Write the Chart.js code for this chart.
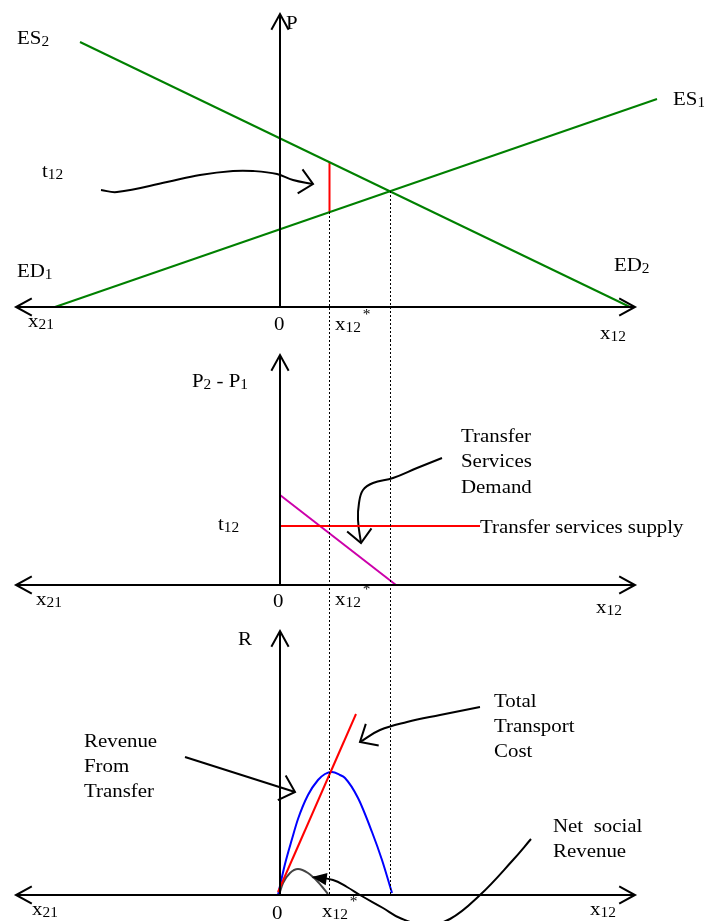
<!DOCTYPE html>
<html>
<head>
<meta charset="utf-8" />
<script src="https://cdn.jsdelivr.net/npm/chart.js@4.4.1/dist/chart.umd.min.js"></script>
<style>
  html,body{margin:0;padding:0;background:#fff;}
  #wrap{position:relative;width:704px;height:921px;}
  #c{display:block;}
</style>
</head>
<body>
<div id="wrap"><canvas id="c" width="704" height="921"></canvas></div>
<script>
/* ---------- Data (diagram units: 0 = vertical axis, x12 grows to the right) ---------- */
const X12_STAR = 4.95, X12_TRADE = 11.05;   // equilibrium with / without transfer cost
const X_LEFT = -26.4, X_RIGHT = 35.5;       // ends of the quantity axes

// top panel: P
const es2X = [-20, 35],     es2Y = [26.5, 0];      // ES2 / ED2
const es1X = [-22.5, 37.7], es1Y = [0, 20.8];      // ED1 / ES1
const gapY = [14.5, 9.5];                          // t12 gap at x12*
const crossY = 11.6;                               // ES1 = ED2 height
const topAxisH = 29.3, topFloor = -3.3;

// middle panel: P2 - P1
const demandX = [0, 11.6], demandY = [9.0, 0];
const supplyX = [0, 20],   supplyY = [5.9, 5.9];
const midAxisH = 23, midCeil = 24.5, midFloor = -3.5;

// bottom panel: R
const revX  = [-0.2, 0.5, 1.2, 1.8, 2.8, 3.8, 4.5, 5.2, 6.0, 6.5, 7.8, 9.2, 10.2, 11.2];
const revY  = [0, 3.1, 5.6, 7.6, 10.0, 11.5, 12.1, 12.3, 12.0, 11.7, 9.7, 6.3, 3.5, 0.2];
const costX = [-0.2, 7.6], costY = [0.3, 18.1];
const netX  = [-0.1, 0.3, 1.0, 1.8, 2.8, 3.8, 4.8];
const netY  = [0, 1.2, 2.2, 2.6, 2.2, 1.3, 0.1];
const botAxisH = 26.4, botCeil = 27.5;

// pointer curves
const t12PtrX = [-17.9, -16.3, -11.3, -8, -4.7, -2.7, -0.3, 1.3, 3.3];
const t12PtrY = [11.7, 11.5, 12.5, 13.2, 13.6, 13.6, 13.3, 12.7, 12.3];
const tsdPtrX = [16.2, 13.7, 11.3, 9.3, 8.3, 7.9, 7.8, 8.1];
const tsdPtrY = [12.7, 11.7, 10.7, 10.2, 9.5, 8.2, 6.5, 4.2];
const revPtrX = [-9.5, 1.5], revPtrY = [13.8, 10.3];
const ttcPtrX = [20, 16, 12.7, 10, 8];
const ttcPtrY = [18.8, 18.0, 17.3, 16.5, 15.3];
const nsrPtrX = [25.1, 23.3, 20, 17, 14.5, 12, 10.3, 8, 6.7, 5.3, 3.2];
const nsrPtrY = [5.6, 3.5, 0, -2.4, -3.0, -2.3, -1.3, 0, 0.8, 1.5, 1.8];

/* ---------- Labels ---------- */
const labels = [
  ['yTop', -26.3, 26.3, [['ES'], ['2', 'sub']]],
  ['yTop', 0.6, 27.8, [['P']]],
  ['yTop', -23.8, 13.0, [['t'], ['12', 'sub']]],
  ['yTop', -26.3, 3.0, [['ED'], ['1', 'sub']]],
  ['yTop', 39.3, 20.2, [['ES'], ['1', 'sub']]],
  ['yTop', 33.4, 3.6, [['ED'], ['2', 'sub']]],
  ['yTop', -25.2, -2.0, [['x'], ['21', 'sub']]],
  ['yTop', -0.6, -2.3, [['0']]],
  ['yTop', 5.5, -2.3, [['x'], ['12', 'sub'], ['*', 'sup']]],
  ['yTop', 32, -3.2, [['x'], ['12', 'sub']]],

  ['yMid', -8.8, 19.8, [['P'], ['2', 'sub'], [' - P'], ['1', 'sub']]],
  ['yMid', -6.2, 5.5, [['t'], ['12', 'sub']]],
  ['yMid', -24.4, -2.0, [['x'], ['21', 'sub']]],
  ['yMid', -0.7, -2.2, [['0']]],
  ['yMid', 5.5, -2.0, [['x'], ['12', 'sub'], ['*', 'sup']]],
  ['yMid', 31.6, -2.8, [['x'], ['12', 'sub']]],
  ['yMid', 18.1, 14.3, [['Transfer']]],
  ['yMid', 18.1, 11.8, [['Services']]],
  ['yMid', 18.1, 9.2, [['Demand']]],
  ['yMid', 20.0, 5.2, [['Transfer services supply']]],

  ['yBot', -4.2, 25.0, [['R']]],
  ['yBot', -19.6, 14.8, [['Revenue']]],
  ['yBot', -19.6, 12.3, [['From']]],
  ['yBot', -19.6, 9.8, [['Transfer']]],
  ['yBot', 21.4, 18.8, [['Total']]],
  ['yBot', 21.4, 16.3, [['Transport']]],
  ['yBot', 21.4, 13.8, [['Cost']]],
  ['yBot', 27.3, 6.3, [['Net  social']]],
  ['yBot', 27.3, 3.8, [['Revenue']]],
  ['yBot', -24.8, -2.0, [['x'], ['21', 'sub']]],
  ['yBot', -0.8, -2.4, [['0']]],
  ['yBot', 4.2, -2.2, [['x'], ['12', 'sub'], ['*', 'sup']]],
  ['yBot', 31.0, -2.0, [['x'], ['12', 'sub']]]
];

/* ---------- Helpers ---------- */
const GREEN = '#008000', RED = '#ff0000', BLUE = '#0000ff', MAGENTA = '#cc00aa';
const AXIS_HEAD = { len: 18, spread: 0.5 };
const PTR_HEAD = { len: 18, spread: 0.75 };

function pts(xs, ys){ return xs.map((x, i) => ({ x, y: ys[i] })); }
function line(xs, ys, axis, color, width, extra){
  return Object.assign({
    data: pts(xs, ys), yAxisID: axis, borderColor: color, borderWidth: width,
    showLine: true, pointRadius: 0, fill: false, tension: 0
  }, extra || {});
}
const dotted = { borderDash: [2, 2] };
const smooth = { cubicInterpolationMode: 'monotone' };

const datasets = [
  // axes
  line([X_LEFT, X_RIGHT], [0, 0], 'yTop', '#000', 2, { arrow: Object.assign({ start: true, end: true }, AXIS_HEAD) }),
  line([0, 0], [0, topAxisH], 'yTop', '#000', 2, { arrow: Object.assign({ end: true }, AXIS_HEAD) }),
  line([X_LEFT, X_RIGHT], [0, 0], 'yMid', '#000', 2, { arrow: Object.assign({ start: true, end: true }, AXIS_HEAD) }),
  line([0, 0], [0, midAxisH], 'yMid', '#000', 2, { arrow: Object.assign({ end: true }, AXIS_HEAD) }),
  line([X_LEFT, X_RIGHT], [0, 0], 'yBot', '#000', 2, { arrow: Object.assign({ start: true, end: true }, AXIS_HEAD) }),
  line([0, 0], [0, botAxisH], 'yBot', '#000', 2, { arrow: Object.assign({ end: true }, AXIS_HEAD) }),

  // guide lines
  line([X12_STAR, X12_STAR], [gapY[1], topFloor], 'yTop', '#000', 1, dotted),
  line([X12_TRADE, X12_TRADE], [crossY, topFloor], 'yTop', '#000', 1, dotted),
  line([X12_STAR, X12_STAR], [midCeil, midFloor], 'yMid', '#000', 1, dotted),
  line([X12_TRADE, X12_TRADE], [midCeil, midFloor], 'yMid', '#000', 1, dotted),
  line([X12_STAR, X12_STAR], [botCeil, 0], 'yBot', '#000', 1, dotted),
  line([X12_TRADE, X12_TRADE], [botCeil, 0], 'yBot', '#000', 1, dotted),

  // top panel
  line(es2X, es2Y, 'yTop', GREEN, 2),
  line(es1X, es1Y, 'yTop', GREEN, 2),
  line([X12_STAR, X12_STAR], gapY, 'yTop', RED, 2),

  // middle panel
  line(supplyX, supplyY, 'yMid', RED, 2),
  line(demandX, demandY, 'yMid', MAGENTA, 2),

  // bottom panel
  line(costX, costY, 'yBot', RED, 2),
  line(revX, revY, 'yBot', BLUE, 2, smooth),
  line(netX, netY, 'yBot', '#444', 2, smooth),

  // pointers
  line(t12PtrX, t12PtrY, 'yTop', '#000', 2, { tension: 0.4, arrow: Object.assign({ end: true }, PTR_HEAD) }),
  line(tsdPtrX, tsdPtrY, 'yMid', '#000', 2, { tension: 0.4, arrow: Object.assign({ end: true }, PTR_HEAD) }),
  line(revPtrX, revPtrY, 'yBot', '#000', 2, { arrow: { end: true, len: 19, spread: 0.75 } }),
  line(ttcPtrX, ttcPtrY, 'yBot', '#000', 2, { tension: 0.4, arrow: { end: true, len: 19, spread: 0.72 } }),
  line(nsrPtrX, nsrPtrY, 'yBot', '#000', 2, { tension: 0.4, arrow: { end: true, len: 16, spread: 0.4, filled: true } })
];

/* ---------- Plugins ---------- */
function head(ctx, from, to, a){
  const ang = Math.atan2(to.y - from.y, to.x - from.x);
  ctx.beginPath();
  ctx.moveTo(to.x - a.len * Math.cos(ang - a.spread), to.y - a.len * Math.sin(ang - a.spread));
  ctx.lineTo(to.x, to.y);
  ctx.lineTo(to.x - a.len * Math.cos(ang + a.spread), to.y - a.len * Math.sin(ang + a.spread));
  if(a.filled){ ctx.closePath(); ctx.fill(); } else ctx.stroke();
}

const arrowPlugin = {
  id: 'arrows',
  afterDatasetsDraw(chart){
    const ctx = chart.ctx;
    chart.data.datasets.forEach((ds, i) => {
      if(!ds.arrow) return;
      const p = chart.getDatasetMeta(i).data;
      ctx.save();
      ctx.strokeStyle = ctx.fillStyle = ds.borderColor;
      ctx.lineWidth = ds.borderWidth;
      ctx.setLineDash([]);
      if(ds.arrow.end) head(ctx, p[p.length - 2], p[p.length - 1], ds.arrow);
      if(ds.arrow.start) head(ctx, p[1], p[0], ds.arrow);
      ctx.restore();
    });
  }
};

const STRETCH = 1.1;
const textPlugin = {
  id: 'texts',
  afterDraw(chart){
    const ctx = chart.ctx, xs = chart.scales.x;
    ctx.save();
    ctx.fillStyle = '#000';
    ctx.textBaseline = 'alphabetic';
    labels.forEach(([axis, x, y, parts]) => {
      let px = xs.getPixelForValue(x);
      const py = chart.scales[axis].getPixelForValue(y);
      parts.forEach(([t, kind]) => {
        const size = kind ? 14 : 19;
        const dy = kind === 'sub' ? 2 : kind === 'sup' ? -11 : 0;
        ctx.font = size + "px 'Liberation Serif', 'Times New Roman', serif";
        ctx.save();
        ctx.translate(px + (kind === 'sup' ? 2 : 0), py + dy);
        ctx.scale(STRETCH, 1);
        ctx.fillText(t, 0, 0);
        ctx.restore();
        px += ctx.measureText(t).width * STRETCH + (kind === 'sup' ? 2 : 0);
      });
    });
    ctx.restore();
  }
};

/* ---------- Chart ---------- */
new Chart(document.getElementById('c').getContext('2d'), {
  type: 'scatter',
  data: { datasets },
  options: {
    responsive: false,
    animation: false,
    layout: { padding: 0 },
    plugins: { legend: { display: false }, tooltip: { enabled: false } },
    scales: {
      x:    { type: 'linear', min: -28,   max: 42.4, display: false },
      yTop: { type: 'linear', min: -61.4, max: 30.7, display: false },
      yMid: { type: 'linear', min: -33.6, max: 58.5, display: false },
      yBot: { type: 'linear', min: -2.6,  max: 89.5, display: false }
    }
  },
  plugins: [arrowPlugin, textPlugin]
});
</script>
</body>
</html>
